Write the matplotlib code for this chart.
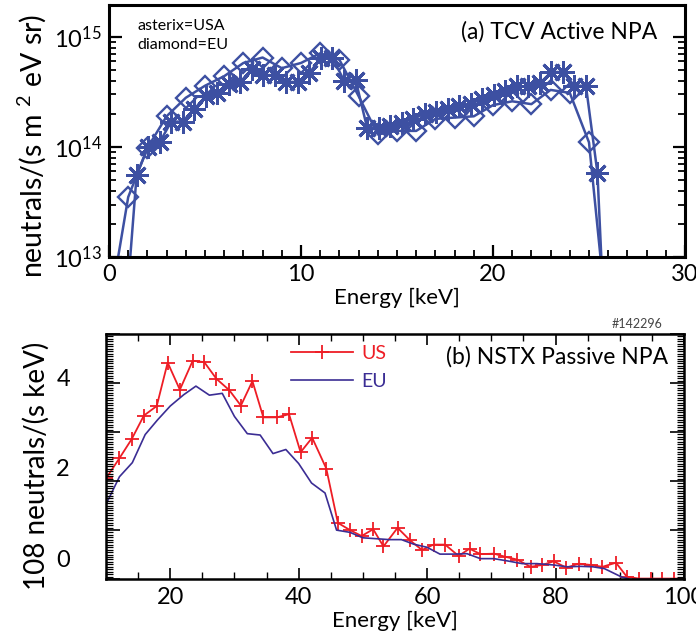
import matplotlib
matplotlib.use('Agg')
import matplotlib.pyplot as plt
from matplotlib.ticker import MultipleLocator, LogLocator, NullFormatter

plt.rcParams['font.family'] = ['Lato', 'DejaVu Sans']
plt.rcParams['mathtext.fontset'] = 'custom'
plt.rcParams['mathtext.rm'] = 'Lato'
plt.rcParams['mathtext.it'] = 'Lato:italic'
plt.rcParams['mathtext.bf'] = 'Lato:bold'

# (a) TCV active NPA, neutrals/(s m^2 eV sr)
eu_energy_a = [0, 1, 2, 3, 4, 5, 6, 7, 8, 9, 10, 11, 12, 13, 14, 15, 16,
               17, 18, 19, 20, 21, 22, 23, 24, 25, 26]
eu_flux_a = [3.2e12, 3.5e13, 9.8e13, 1.9e14, 2.8e14, 3.6e14, 4.4e14, 5.8e14,
             6.5e14, 5.2e14, 5.8e14, 7.1e14, 6.2e14, 2.9e14, 1.3e14, 1.4e14,
             1.4e14, 1.8e14, 1.85e14, 1.9e14, 2.4e14, 2.6e14, 2.45e14, 3.3e14,
             3.1e14, 1.1e14, 2.0e12]
us_energy_a = [0.84, 1.44, 2.04, 2.64, 3.24, 3.84, 4.44, 5.04, 5.64, 6.24,
               6.84, 7.44, 8.04, 8.64, 9.24, 9.84, 10.44, 11.04, 11.64, 12.24,
               12.84, 13.44, 14.04, 14.64, 15.24, 15.84, 16.44, 17.04, 17.64,
               18.24, 18.84, 19.44, 20.04, 20.64, 21.24, 21.84, 22.44, 23.04,
               23.64, 24.24, 24.84, 25.44, 26.04]
us_flux_a = [2.5e12, 5.6e13, 1.0e14, 1.1e14, 1.7e14, 1.7e14, 2.2e14, 2.9e14,
             3.1e14, 3.7e14, 3.9e14, 5.1e14, 4.5e14, 4.5e14, 3.9e14, 3.9e14,
             4.7e14, 6.5e14, 6.5e14, 4.0e14, 4.1e14, 1.5e14, 1.5e14, 1.55e14,
             1.65e14, 1.8e14, 2.0e14, 2.1e14, 2.2e14, 2.35e14, 2.45e14,
             2.75e14, 2.95e14, 3.2e14, 3.55e14, 3.55e14, 3.8e14, 4.8e14,
             4.8e14, 3.6e14, 3.6e14, 5.8e13, 3e11]

# (b) NSTX passive NPA, 10^8 neutrals/(s keV)
us_energy_b = [10.0, 12.1, 14.0, 15.9, 17.9, 19.6, 21.5, 23.5, 25.3, 27.2,
               29.2, 31.0, 32.8, 34.5, 36.6, 38.5, 40.3, 42.1, 44.3, 46.1,
               48.0, 49.8, 51.6, 53.2, 55.4, 57.3, 59.2, 61.0, 62.8, 64.9,
               66.6, 68.3, 70.4, 72.2, 74.0, 76.1, 77.9, 79.7, 81.7, 83.6,
               85.5, 87.3, 89.4, 91.1, 93.0, 94.8, 96.6, 98.4, 101.0]
us_counts_b = [1.76, 2.21, 2.63, 3.15, 3.36, 4.32, 3.72, 4.36, 4.33, 3.96,
               3.71, 3.37, 3.91, 3.11, 3.11, 3.18, 2.34, 2.66, 1.98, 0.78,
               0.62, 0.49, 0.64, 0.26, 0.67, 0.40, 0.18, 0.30, 0.30, 0.05,
               0.21, 0.09, 0.10, 0.03, -0.03, -0.19, -0.15, -0.07, -0.21, -0.12,
               -0.15, -0.19, -0.10, -0.41, -0.45, -0.45, -0.45, -0.45, -0.45]
eu_energy_b = [10.0, 12.1, 14.1, 16.1, 18.0, 20.0, 22.1, 24.0, 26.1, 28.1,
               30.0, 32.0, 34.0, 36.0, 38.0, 40.0, 42.0, 44.1, 45.9, 48.0,
               50.0, 52.1, 54.1, 56.0, 57.9, 60.0, 62.0, 64.1, 66.2, 68.3,
               70.4, 72.5, 74.8, 77.1, 79.7, 81.8, 83.9, 85.8, 87.6, 90.2,
               91.7, 100.0]
eu_counts_b = [1.19, 1.80, 2.11, 2.73, 3.05, 3.36, 3.61, 3.80, 3.60, 3.64,
               3.13, 2.75, 2.72, 2.31, 2.40, 2.09, 1.66, 1.44, 0.62, 0.57,
               0.45, 0.43, 0.41, 0.41, 0.31, 0.24, 0.09, 0.09, 0.10, -0.01,
               -0.01, -0.06, -0.12, -0.12, -0.15, -0.19, -0.18, -0.19, -0.23,
               -0.41, -0.47, -0.47]

blue = '#3d50a2'
red = '#ee1d25'
navy = '#3b2d94'

fig = plt.figure(figsize=(6.96, 6.43), dpi=100)

# ---- panel (a)
ax1 = fig.add_axes([0.1566, 0.6003, 0.8276, 0.3919])
ax1.plot(eu_energy_a, eu_flux_a, color=blue, lw=1.8, marker='D', ms=10,
         mfc='none', mec=blue, mew=1.7)
ax1.plot(us_energy_a, us_flux_a, color=blue, lw=1.8, marker=(8, 2, 0),
         ms=16, mew=2.1)
ax1.set_yscale('log')
ax1.set_xlim(0, 30)
ax1.set_ylim(1e13, 1.95e15)
ax1.xaxis.set_major_locator(MultipleLocator(10))
ax1.xaxis.set_minor_locator(MultipleLocator(1))
ax1.set_yticks([1e13, 1e14, 1e15], labels=['10$^{13}$', '10$^{14}$', '10$^{15}$'])
ax1.yaxis.set_minor_locator(LogLocator(base=10, subs=range(2, 10)))
ax1.yaxis.set_minor_formatter(NullFormatter())
ax1.tick_params(which='both', direction='in', top=False, right=True)
ax1.tick_params(which='major', length=9, width=1.6, labelsize=17, pad=5)
ax1.tick_params(which='minor', length=5, width=1.3)
for s in ax1.spines.values():
    s.set_linewidth(2.2)
ax1.set_xlabel('Energy [keV]', fontsize=16, labelpad=2)
ax1.set_ylabel('neutrals/(s m $^{2}$ eV sr)', fontsize=20.5)
ax1.yaxis.set_label_coords(-0.106, 0.44)
ax1.text(0.951, 0.893, '(a) TCV Active NPA', transform=ax1.transAxes,
         ha='right', va='center', fontsize=16.5)
ax1.text(0.05, 0.917, 'asterix=USA', transform=ax1.transAxes,
         ha='left', va='center', fontsize=11.5)
ax1.text(0.05, 0.841, 'diamond=EU', transform=ax1.transAxes,
         ha='left', va='center', fontsize=11.5)

# ---- panel (b)
pos_b = [0.1523, 0.0995, 0.8305, 0.381]
ax2 = fig.add_axes(pos_b)
ax2.plot(us_energy_b, us_counts_b, color=red, lw=1.3, marker='+', ms=10,
         mew=1.3, label='US')
ax2.plot(eu_energy_b, eu_counts_b, color=navy, lw=1.2, label='EU')
ax2.set_xlim(10, 100)
ax2.set_ylim(-0.46, 4.95)
ax2.xaxis.set_major_locator(MultipleLocator(20))
ax2.xaxis.set_minor_locator(MultipleLocator(5))
ax2.tick_params(axis='x', which='both', direction='in', top=True)
ax2.tick_params(axis='x', which='major', length=8, width=1.2, labelsize=17, pad=6)
ax2.tick_params(axis='x', which='minor', length=5, width=1.0)
ax2.set_yticks([0, 2, 4])
ax2.tick_params(axis='y', which='both', length=0, labelsize=17, pad=26)
for s in ax2.spines.values():
    s.set_linewidth(1.8)
ax2.set_xlabel('Energy [keV]', fontsize=16, labelpad=2)
ax2.set_ylabel('108 neutrals/(s keV)', fontsize=20)
ax2.yaxis.set_label_coords(-0.097, 0.461)
ax2.text(0.972, 0.906, '(b) NSTX Passive NPA', transform=ax2.transAxes,
         ha='right', va='center', fontsize=16.5)
ax2.legend(loc='upper left', bbox_to_anchor=(0.32, 0.955), frameon=False,
           fontsize=14, handlelength=3.2, handletextpad=0.4, labelspacing=0.55,
           numpoints=1, labelcolor='linecolor', borderpad=0, borderaxespad=0)

# tick marks on the y spines of (b) are on their own grid
ax3 = fig.add_axes(pos_b, frameon=False)
ax3.set_xlim(0, 1)
ax3.set_ylim(0, 5)
ax3.yaxis.set_major_locator(MultipleLocator(1))
ax3.yaxis.set_minor_locator(MultipleLocator(0.05))
ax3.tick_params(axis='y', which='both', direction='in', left=True, right=True,
                labelleft=False, labelright=False)
ax3.tick_params(axis='y', which='major', length=10, width=1.2)
ax3.tick_params(axis='y', which='minor', length=5, width=0.9)
ax3.tick_params(axis='x', which='both', bottom=False, labelbottom=False)

fig.text(663 / 696, 1 - 324 / 643, '#142296', ha='right', va='center',
         fontsize=9, color='#444444')

fig.savefig('out.png', dpi=100)
